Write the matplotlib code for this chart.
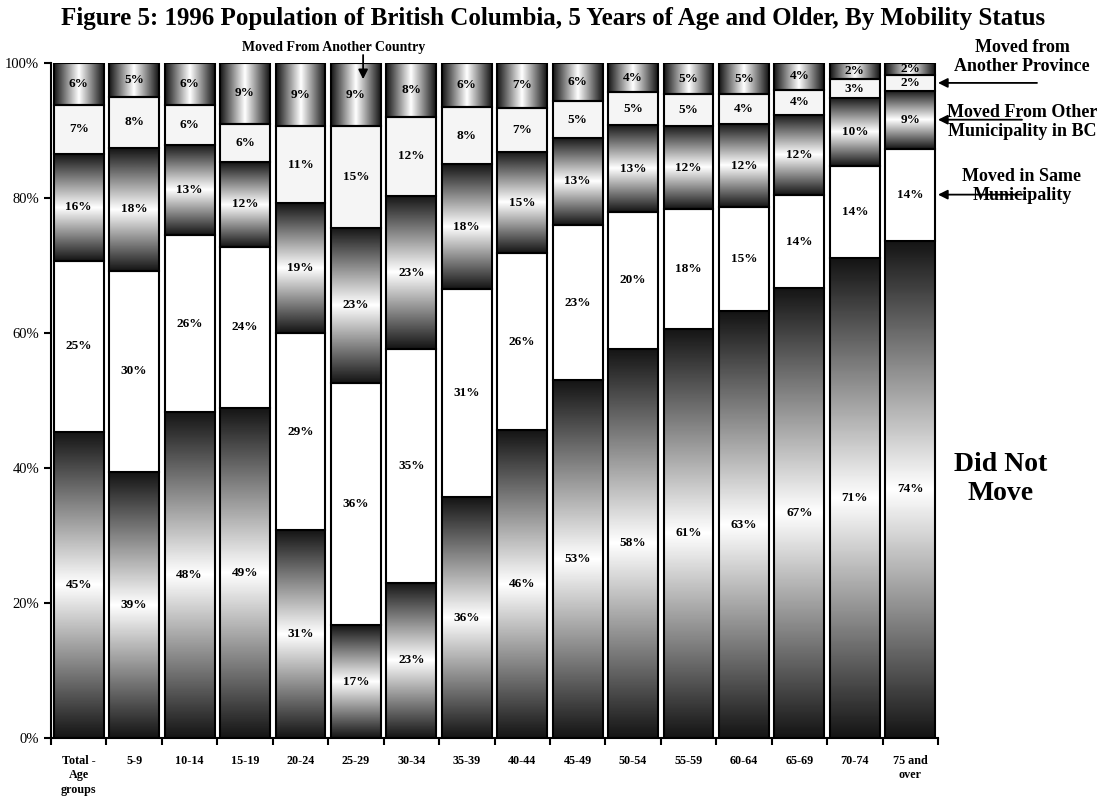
import numpy as np
import matplotlib
matplotlib.use("Agg")
import matplotlib.pyplot as plt

# ================================
# Data (percent of each age group)
# ================================
age_groups = ["Total -\nAge\ngroups", "5-9", "10-14", "15-19", "20-24", "25-29",
              "30-34", "35-39", "40-44", "45-49", "50-54", "55-59", "60-64",
              "65-69", "70-74", "75 and\nover"]

did_not_move   = [45.4, 39.4, 48.3, 48.9, 30.8, 16.7, 23.0, 35.7, 45.6, 53.0, 57.7, 60.6, 63.2, 66.7, 71.1, 73.7]
same_muni      = [25.3, 29.8, 26.2, 23.9, 29.2, 35.9, 34.6, 30.8, 26.2, 23.0, 20.2, 17.7, 15.4, 13.7, 13.6, 13.6]
other_muni_bc  = [15.8, 18.2, 13.4, 12.5, 19.2, 23.0, 22.7, 18.5, 15.0, 12.9, 12.9, 12.3, 12.4, 11.9, 10.1, 8.6]
other_province = [7.3, 7.6, 5.9, 5.7, 11.4, 15.0, 11.7, 8.5, 6.6, 5.4, 4.9, 4.8, 4.4, 3.7, 2.8, 2.3]
other_country  = [6.2, 5.0, 6.2, 9.0, 9.4, 9.4, 8.0, 6.5, 6.6, 5.7, 4.3, 4.6, 4.6, 4.0, 2.4, 1.8]

series = [did_not_move, same_muni, other_muni_bc, other_province, other_country]
fills = ["vgrad", "#ffffff", "vgrad", "#f5f5f5", "hgrad"]

plt.rcParams['font.family'] = ['Liberation Serif', 'DejaVu Serif']

W, H = 1106, 796
fig = plt.figure(figsize=(W / 100, H / 100), dpi=100)
ax = fig.add_axes([51 / W, 1 - 738 / H, 887 / W, 675 / H])

# gradient strips: dark at both ends, white in the middle
t = np.linspace(0, 1, 256)
ramp = 0.08 + 0.92 * (1 - np.abs(2 * t - 1))
vgrad = ramp.reshape(-1, 1)
hgrad = ramp.reshape(1, -1)

x = np.arange(len(age_groups))
bottom = np.zeros(len(age_groups))
for vals, fill in zip(series, fills):
    vals = np.array(vals)
    face = "none" if fill in ("vgrad", "hgrad") else fill
    bars = ax.bar(x, vals, bottom=bottom, width=0.9, facecolor=face,
                  edgecolor="black", linewidth=1.5, zorder=2)
    if fill in ("vgrad", "hgrad"):
        img = vgrad if fill == "vgrad" else hgrad
        for p in bars.patches:
            x0, y0 = p.get_x(), p.get_y()
            ax.imshow(img, extent=[x0, x0 + p.get_width(), y0, y0 + p.get_height()],
                      cmap="gray", vmin=0, vmax=1, aspect="auto",
                      interpolation="bilinear", origin="lower", zorder=1)
    for xi, b, v in zip(x, bottom, vals):
        ax.text(xi, b + v / 2, f"{v:.0f}%", ha="center", va="center",
                fontsize=9.5, fontweight="bold", zorder=3)
    bottom = bottom + vals

ax.set_xlim(-0.5, len(age_groups) - 0.5)
ax.set_ylim(0, 100)
ax.set_aspect("auto")

ax.set_yticks(np.arange(0, 101, 20))
ax.set_yticklabels([f"{v}%" for v in range(0, 101, 20)], fontsize=10.5)
ax.set_xticks(np.arange(-0.5, len(age_groups)), labels=[])
ax.set_xticks(x, labels=age_groups, minor=True)
ax.tick_params(axis="x", which="minor", length=0, pad=12, labelsize=8.7)
for lab in ax.get_xticklabels(minor=True):
    lab.set_fontweight("bold")
    lab.set_va("top")
    lab.set_linespacing(1.3)
ax.tick_params(axis="both", which="major", direction="out", length=5, width=1.5)

for s in ["top", "right"]:
    ax.spines[s].set_visible(False)
for s in ["left", "bottom"]:
    ax.spines[s].set_linewidth(1.5)

fig.text(553 / W, 1 - 18 / H,
         "Figure 5: 1996 Population of British Columbia, 5 Years of Age and Older, By Mobility Status",
         ha="center", va="center", fontsize=18, fontweight="bold")

# arrows and labels for each category
arrow = dict(arrowstyle="-|>", color="black", lw=1.3, mutation_scale=14, shrinkA=0, shrinkB=0)
last = len(age_groups) - 1
cum = np.cumsum([s[last] for s in series])
mids = cum - np.array([s[last] for s in series]) / 2

ax.annotate("", xy=(last + 0.5, mids[3]), xytext=(1037, mids[3]),
            xycoords="data", textcoords=("figure pixels", "data"), arrowprops=arrow)
ax.annotate("", xy=(last + 0.5, mids[2]), xytext=(1022, mids[2]),
            xycoords="data", textcoords=("figure pixels", "data"), arrowprops=arrow)
ax.annotate("", xy=(last + 0.5, mids[1]), xytext=(1022, mids[1]),
            xycoords="data", textcoords=("figure pixels", "data"), arrowprops=arrow)

fig.text(1022 / W, 1 - 57 / H, "Moved from\nAnother Province", ha="center", va="center",
         fontsize=13, fontweight="bold", linespacing=1.15)
fig.text(1022 / W, 1 - 122 / H, "Moved From Other\nMunicipality in BC", ha="center", va="center",
         fontsize=13, fontweight="bold", linespacing=1.15)
fig.text(1022 / W, 1 - 186 / H, "Moved in Same\nMunicipality", ha="center", va="center",
         fontsize=13, fontweight="bold", linespacing=1.15)
fig.text(1001 / W, 1 - 479 / H, "Did Not\nMove", ha="center", va="center",
         fontsize=20, fontweight="bold", linespacing=1.2)

fig.text(334 / W, 1 - 47 / H, "Moved From Another Country", ha="center", va="center",
         fontsize=10, fontweight="bold")
ax.annotate("", xy=(5.13, 97.6), xytext=(5.13, 1 - 55 / H),
            xycoords="data", textcoords=("data", "figure fraction"), arrowprops=arrow)

fig.savefig("out.png", dpi=100)
